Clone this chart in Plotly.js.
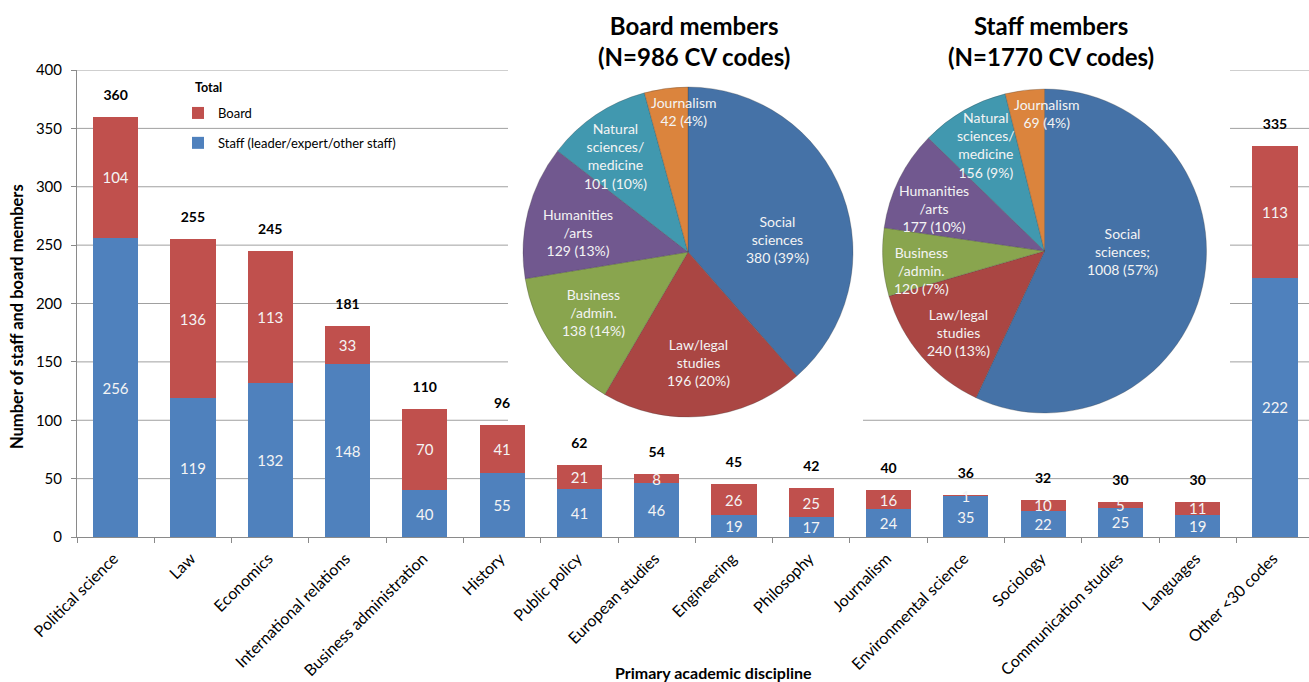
<!DOCTYPE html>
<html><head><meta charset="utf-8">
<script src="https://cdn.plot.ly/plotly-3.0.1.min.js"></script>
<style>html,body{margin:0;padding:0;background:#fff}</style>
</head><body><div id="chart" style="width:1309px;height:682px"></div>
<script>
// ---------- data ----------
const disciplines = ["Political science","Law","Economics","International relations","Business administration","History","Public policy","European studies","Engineering","Philosophy","Journalism","Environmental science","Sociology","Communication studies","Languages","Other <30 codes"];
const staffValues = [256,119,132,148,40,55,41,46,19,17,24,35,22,25,19,222];
const boardValues = [104,136,113,33,70,41,21,8,26,25,16,1,10,5,11,113];
const yTickValues = [50,100,150,200,250,300,350,400];

const pieFields = ["Social sciences","Law/legal studies","Business/admin.","Humanities/arts","Natural sciences/medicine","Journalism"];
const boardPieLabels = ["Social<br>sciences","Law/legal<br>studies","Business<br>/admin.","Humanities<br>/arts","Natural<br>sciences/<br>medicine","Journalism"];
const staffPieLabels = ["Social<br>sciences;","Law/legal<br>studies","Business<br>/admin.","Humanities<br>/arts","Natural<br>sciences/<br>medicine","Journalism"];
const boardPieValues = [380,196,138,129,101,42];
const staffPieValues = [1008,240,120,177,156,69];
const boardPiePct = [39,20,14,13,10,4];
const staffPiePct = [57,13,7,10,9,4];

// ---------- layout geometry ----------
const W=1309, H=682, L=77, T=70, B=145, R=0;
const PW=W-L-R, PH=H-T-B;
const fx = px => (px-L)/PW;
const fy = py => (H-B-py)/PH;
const FONT = "Lato, 'Open Sans', sans-serif";

const totals = staffValues.map((v,i)=>v+boardValues[i]);

const pieColors = ["#4572A7","#AA4643","#89A54E","#71588F","#4198AF","#DB843D"];
const boardBox = [523,853,87,417];
const staffBox = [882,1207,89,413];

function pieDomain(b){ return {x:[fx(b[0]),fx(b[1])], y:[fy(b[3]),fy(b[2])]}; }

function pieLabelAnns(box, values, labels, pct, nudge, rf){
  const cx=(box[0]+box[1])/2, cy=(box[2]+box[3])/2;
  const r=Math.min(box[1]-box[0], box[3]-box[2])/2;
  const tot=values.reduce((a,b)=>a+b,0);
  let cum=0; const out=[];
  values.forEach((v,i)=>{
    const mid=(cum+v/2)/tot*360 + nudge[i]; cum+=v;
    const a=mid*Math.PI/180;
    const px=cx+rf[i]*r*Math.sin(a), py=cy-rf[i]*r*Math.cos(a);
    out.push({xref:'paper',yref:'paper',x:fx(px),y:fy(py),xanchor:'center',yanchor:'middle',
      text:labels[i]+'<br>'+v+' ('+pct[i]+'%)',showarrow:false,align:'center',
      font:{family:FONT,size:14,color:'#f4f4f4'}});
  });
  return out;
}

const traces = [
  {type:'bar', x:disciplines, y:staffValues, name:'Staff (leader/expert/other staff)', legendrank:2, legendgroup:'s',
   marker:{color:'#4F81BD'}, text:staffValues.map(String), textposition:'inside', insidetextanchor:'middle',
   textangle:0, constraintext:'none', textfont:{family:FONT,size:15,color:'#f4f4f4'}, hoverinfo:'skip'},
  {type:'bar', x:disciplines, y:boardValues, name:'Board', legendrank:1, legendgroup:'b',
   marker:{color:'#C0504D'}, text:boardValues.map(String), textposition:'inside', insidetextanchor:'middle',
   textangle:0, constraintext:'none', textfont:{family:FONT,size:15,color:'#f4f4f4'}, hoverinfo:'skip'},
  {type:'scatter', mode:'markers+text', x:disciplines, y:totals, text:totals.map(v=>'<b>'+v+'</b>'),
   textposition:'top center', marker:{size:20,color:'rgba(0,0,0,0)'}, showlegend:false, cliponaxis:false,
   textfont:{family:FONT,size:14,color:'#000'}, hoverinfo:'skip'},
  {type:'pie', values:boardPieValues, labels:pieFields, sort:false, direction:'clockwise', rotation:0,
   domain:pieDomain(boardBox), marker:{colors:pieColors, line:{color:'rgba(60,60,60,0.35)',width:0.8}},
   textinfo:'none', showlegend:false, hoverinfo:'skip'},
  {type:'pie', values:staffPieValues, labels:pieFields, sort:false, direction:'clockwise', rotation:0,
   domain:pieDomain(staffBox), marker:{colors:pieColors, line:{color:'rgba(60,60,60,0.35)',width:0.8}},
   textinfo:'none', showlegend:false, hoverinfo:'skip'}
];

const annotations = [
  {xref:'paper',yref:'paper',x:fx(193),y:fy(88),xanchor:'left',yanchor:'middle',text:'<b>Total</b>',showarrow:false,
   font:{family:FONT,size:12.5,color:'#000'}},
  {xref:'paper',yref:'paper',x:fx(694),y:fy(41),xanchor:'center',yanchor:'middle',
   text:'<b>Board members<br>(N=986 CV codes)</b>',showarrow:false,font:{family:FONT,size:24,color:'#000'}},
  {xref:'paper',yref:'paper',x:fx(1051),y:fy(41),xanchor:'center',yanchor:'middle',
   text:'<b>Staff members<br>(N=1770 CV codes)</b>',showarrow:false,font:{family:FONT,size:24,color:'#000'}},
  {xref:'paper',yref:'paper',x:fx(17),y:fy(317),xanchor:'center',yanchor:'middle',textangle:-90,
   text:'<b>Number of staff and board members</b>',showarrow:false,font:{family:FONT,size:16.5,color:'#000'}},
  {xref:'paper',yref:'paper',x:fx(713),y:fy(672),xanchor:'center',yanchor:'middle',
   text:'<b>Primary academic discipline</b>',showarrow:false,font:{family:FONT,size:16,color:'#000'}}
].concat(
  pieLabelAnns(boardBox, boardPieValues, boardPieLabels, boardPiePct, [13,0,2,-4,-3,6], [0.55,0.67,0.68,0.68,0.73,0.85]),
  pieLabelAnns(staffBox, staffPieValues, staffPieLabels, staffPiePct, [-12,-3,-5,-5,1,8], [0.48,0.73,0.77,0.73,0.75,0.85])
);

// gridlines (drawn as shapes under the traces) then white masks behind the pies
const gridShapes = yTickValues.map(v=>({type:'line',layer:'below',xref:'paper',yref:'y',x0:0,x1:1,y0:v,y1:v,
  line:{color:'#a0a0a0',width:1}}));
const maskShapes = [
  {type:'rect',layer:'below',xref:'paper',yref:'paper',x0:fx(508),x1:fx(863),y0:fy(430),y1:fy(0),fillcolor:'#fff',line:{width:0}},
  {type:'rect',layer:'below',xref:'paper',yref:'paper',x0:fx(863),x1:fx(1230),y0:fy(400),y1:fy(0),fillcolor:'#fff',line:{width:0}}
];

const layout = {
  width:W, height:H, autosize:false,
  margin:{l:L,r:R,t:T,b:B,pad:0},
  paper_bgcolor:'#fff', plot_bgcolor:'#fff',
  font:{family:FONT,color:'#000'},
  barmode:'stack', bargap:0.416,
  xaxis:{type:'category', range:[-0.5,15.44], tickangle:-45, tickfont:{family:FONT,size:16,color:'#000'},
    ticks:'outside', tickson:'boundaries', ticklen:5, tickcolor:'#8a8a8a', showline:true, linecolor:'#8a8a8a',
    ticklabelshift:-2, ticklabelstandoff:5,
    showgrid:false, fixedrange:true, automargin:false},
  yaxis:{range:[0,400], dtick:50, tick0:0, showgrid:false, zeroline:false,
    showline:true, linecolor:'#8a8a8a', ticks:'outside', ticklen:5, tickcolor:'#8a8a8a', ticklabelstandoff:6,
    tickfont:{family:FONT,size:15,color:'#000'}, fixedrange:true, automargin:false},
  showlegend:true,
  legend:{x:fx(178), y:fy(98), xanchor:'left', yanchor:'top', traceorder:'grouped', tracegroupgap:10,
    font:{family:FONT,size:13,color:'#000'}, bgcolor:'rgba(0,0,0,0)'},
  shapes:gridShapes.concat(maskShapes), annotations:annotations
};

Plotly.newPlot('chart', traces, layout, {displayModeBar:false, staticPlot:true});
</script>
</body></html>
